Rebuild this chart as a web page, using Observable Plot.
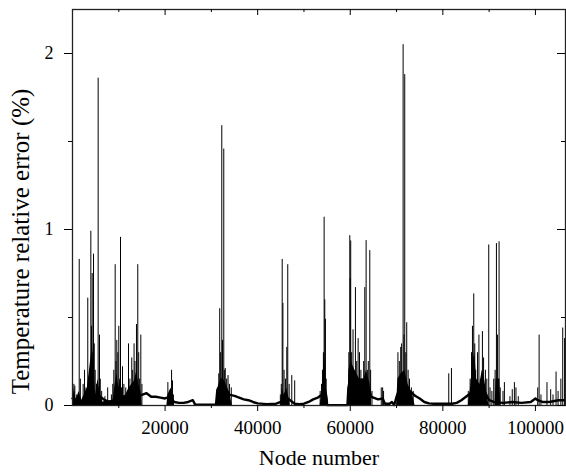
<!DOCTYPE html>
<html><head><meta charset="utf-8">
<script src="https://cdn.jsdelivr.net/npm/d3@7"></script>
<script src="https://cdn.jsdelivr.net/npm/@observablehq/plot@0.6"></script>
<style>body{margin:0;background:#fff} svg{display:block}</style>
</head><body><div id="chart"></div>
<script>
// Tall individual spikes: node number and relative error (%)
const spikeNode = [300,500,900,1450,1700,2300,2600,2900,3300,3600,3960,4100,4250,4400,4540,4700,4900,5200,5540,5830,6000,6300,7000,7600,8400,8700,8930,9220,9400,9570,9800,10000,10200,10370,10600,10800,11100,11500,12100,12400,12800,13000,13300,13500,13820,14100,14300,14500,14760,15000,
  20600,21000,21400,21600,21800,
  31300,31600,31800,32000,32250,32400,32680,32800,33000,33300,33600,33900,34300,
  44900,45100,45300,45450,45700,46000,46290,46500,46800,47370,48000,
  53500,53800,54000,54200,54360,54500,54640,54800,
  59700,59900,60000,60100,60300,60600,60800,61120,61400,61700,62000,62300,62600,62900,63140,63430,63700,63900,64220,64400,64700,
  66700,67000,67200,
  70300,70600,70900,71100,71420,71600,71770,72000,72200,72500,72800,73200,73600,
  81280,81860,
  85500,85900,86200,86400,86680,86900,87100,87500,87800,88100,88550,88800,89200,89500,89920,90200,90600,91000,91300,91580,91800,92150,92400,
  93000,93300,94500,95000,95460,95800,96300,100500,100800,101200,102500,103300,103800,104460,104900,105500,105900,106300];
const spikeVal = [0.12,0.11,0.06,0.83,0.15,0.12,0.2,0.1,0.61,0.15,0.99,0.45,0.75,0.3,0.86,0.35,0.2,0.12,1.86,0.40,0.15,0.08,0.05,0.1,0.06,0.12,0.2,0.80,0.25,0.37,0.3,0.45,0.15,0.955,0.1,0.22,0.12,0.1,0.35,0.15,0.27,0.2,0.35,0.25,0.46,0.80,0.3,0.15,0.40,0.12,
  0.13,0.08,0.2,0.14,0.06,
  0.1,0.18,0.55,0.3,1.59,0.37,1.457,0.2,0.21,0.15,0.17,0.12,0.1,
  0.06,0.12,0.83,0.58,0.2,0.15,0.33,0.80,0.12,0.17,0.14,
  0.08,0.12,0.2,0.3,1.07,0.6,0.49,0.15,
  0.3,0.965,0.72,0.935,0.3,0.43,0.2,0.67,0.25,0.38,0.3,0.2,0.15,0.25,0.67,0.937,0.2,0.25,0.88,0.2,0.08,
  0.1,0.1,0.08,
  0.3,0.25,0.33,0.35,2.05,0.4,1.88,0.3,0.47,0.2,0.15,0.1,0.08,
  0.18,0.21,
  0.08,0.15,0.3,0.45,0.634,0.35,0.2,0.3,0.4,0.15,0.42,0.27,0.2,0.15,0.912,0.1,0.08,0.15,0.2,0.92,0.40,0.93,0.1,
  0.08,0.13,0.05,0.09,0.13,0.1,0.05,0.1,0.40,0.06,0.13,0.09,0.06,0.19,0.08,0.15,0.44,0.38];

// Noise floor (thick baseline)
const baseNode = [0,1000,2000,3000,4000,5000,6000,7000,8000,9000,10000,11000,12000,13000,14000,15000,16000,17000,18000,19000,20000,21000,22000,23000,24000,25000,26000,26500,28000,30000,31000,31300,32000,33000,34000,35000,36000,37000,38000,39000,40000,42000,44000,45000,46000,47000,48000,49000,50000,51000,52000,53000,53800,54500,54900,55000,57000,59400,59600,60000,62000,64000,64500,65000,66000,67000,67500,68500,69000,69500,70000,71000,72000,73000,74000,75000,76000,77000,78000,80000,82000,83000,84000,85000,86000,87000,88000,89000,90000,91000,93000,95000,97000,99000,100000,100500,101500,103000,105000,106500];
const baseVal = [0.04,0.03,0.02,0.02,0.03,0.02,0.05,0.03,0.02,0.03,0.04,0.05,0.05,0.06,0.06,0.06,0.07,0.05,0.05,0.045,0.04,0.05,0.02,0.015,0.015,0.02,0.03,0.005,0.004,0.004,0.005,0.09,0.1,0.09,0.06,0.055,0.045,0.035,0.03,0.02,0.012,0.008,0.01,0.02,0.05,0.03,0.01,0.008,0.01,0.02,0.035,0.045,0.06,0.1,0.04,0.002,0.002,0.003,0.1,0.15,0.12,0.1,0.05,0.045,0.035,0.04,0.01,0.01,0.02,0.003,0.05,0.12,0.1,0.08,0.055,0.04,0.02,0.012,0.01,0.01,0.01,0.015,0.03,0.05,0.07,0.1,0.1,0.08,0.03,0.02,0.015,0.02,0.015,0.02,0.04,0.03,0.02,0.02,0.03,0.03];

// Dense clusters (envelope of packed spikes)
const envNode = [0,400,800,1400,2000,3200,3900,4300,4600,5000,5500,5900,6500,8800,9200,9600,10000,10400,10800,11500,12200,12800,13400,13900,14300,14800,15000,20400,20600,21300,21800,22000,31200,31400,32000,32600,33200,34000,34500,45000,45300,45700,46300,46700,47000,53500,53800,54100,54400,54700,54850,59500,59700,60200,61000,62000,63000,63500,64300,64600,70000,70300,71000,71800,72500,73500,74000,85500,86000,86500,86900,87300,88000,88500,89000,89600,90000,91300,91500,92300,92500];
const envVal = [0.02,0.1,0.03,0.08,0.03,0.1,0.25,0.35,0.2,0.06,0.15,0.08,0.02,0.03,0.12,0.18,0.1,0.15,0.05,0.06,0.1,0.12,0.14,0.2,0.12,0.08,0,0,0.06,0.1,0.03,0,0,0.1,0.15,0.15,0.12,0.07,0,0,0.1,0.06,0.1,0.05,0,0,0.06,0.15,0.3,0.2,0,0,0.2,0.25,0.2,0.15,0.15,0.2,0.12,0,0,0.15,0.18,0.2,0.12,0.06,0,0,0.1,0.25,0.3,0.15,0.12,0.2,0.15,0.05,0,0,0.15,0.15,0];

const xMajor = [20000,40000,60000,80000,100000];
const xMinor = [10000,30000,50000,70000,90000];
const yMajor = [0,1,2];
const yMinor = [0.5,1.5];
const xTitle = "Node number";
const yTitle = "Temperature relative error (%)";

const spikes = spikeNode.map((n,i)=>({node:n, val:spikeVal[i]}));
const base = baseNode.map((n,i)=>({node:n, val:baseVal[i]}));
const env = envNode.map((n,i)=>({node:n, val:envVal[i]}));

const W = 566, H = 476, mL = 72, mR = 1, mT = 9, mB = 71;
const fw = W - mL - mR, fh = H - mT - mB;

const chart = Plot.plot({
  width: W, height: H,
  marginLeft: mL, marginRight: mR, marginTop: mT, marginBottom: mB,
  style: {fontFamily: "'Liberation Serif','Times New Roman',serif", background: "white", color: "black"},
  x: {domain: [0, 106500], axis: null},
  y: {domain: [0, 2.25], axis: null},
  marks: [
    Plot.areaY(env, {x: "node", y: "val", fill: "black"}),
    Plot.line(base, {x: "node", y: "val", stroke: "black", strokeWidth: 2.4}),
    Plot.ruleX(spikes, {x: "node", y1: 0, y2: "val", stroke: "black", strokeWidth: 1}),
    Plot.frame({stroke: "#222", strokeWidth: 1.3}),
    Plot.axisX(xMajor, {anchor: "bottom", tickSize: 6, tickPadding: 9, fontSize: 19, tickFormat: d => String(d), label: null}),
    Plot.axisX(xMinor, {anchor: "bottom", tickSize: 3, tickFormat: () => "", label: null}),
    Plot.axisY(yMajor, {anchor: "left", tickSize: 8, tickPadding: 11, fontSize: 18, tickFormat: d => String(d), label: null}),
    Plot.axisY(yMinor, {anchor: "left", tickSize: 4, tickFormat: () => "", label: null}),
    Plot.ruleX(xMajor, {insetBottom: fh - 6, stroke: "black"}),
    Plot.ruleX(xMinor, {insetBottom: fh - 3, stroke: "black"}),
    Plot.ruleY(yMajor, {insetLeft: fw - 8, stroke: "black"}),
    Plot.ruleY(yMinor, {insetLeft: fw - 4, stroke: "black"}),
    Plot.text([xTitle], {frameAnchor: "bottom", dy: 59, fontSize: 22, fill: "black"}),
    Plot.text([yTitle], {frameAnchor: "left", textAnchor: "middle", rotate: -90, dx: -52, dy: 34, fontSize: 25, fill: "black"})
  ]
});
document.getElementById("chart").appendChild(chart);
</script>
</body></html>
